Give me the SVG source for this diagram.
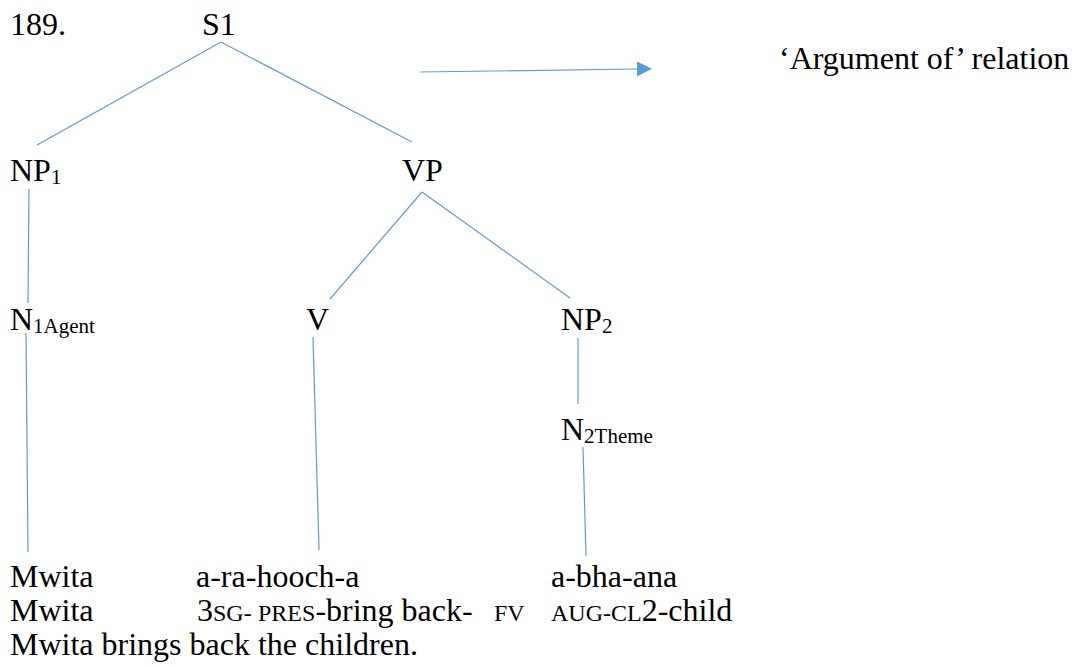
<svg xmlns="http://www.w3.org/2000/svg" width="1075" height="665" viewBox="0 0 1075 665" font-family="'Liberation Serif', serif">
  <style>
    text { font-family: 'Liberation Serif', serif; font-size: 32px; fill: #000; }
    .sub { font-size: 21px; }
    .sc { font-size: 24px; }
    .edge { stroke: #5b9bd5; stroke-width: 1.2; fill: none; }
  </style>
  <defs>
    <marker id="tri" viewBox="0 0 10 10" refX="0" refY="5" markerWidth="15" markerHeight="16" markerUnits="userSpaceOnUse" orient="auto">
      <path d="M0,0 L10,5 L0,10 Z" fill="#5b9bd5"/>
    </marker>
  </defs>

  <text x="10" y="35">189.</text>

  <g id="connectors">
    <line class="edge" x1="221" y1="42" x2="37" y2="145"/>
    <line class="edge" x1="221" y1="42" x2="412" y2="142"/>
    <line class="edge" x1="29" y1="189" x2="28" y2="303"/>
    <line class="edge" x1="422" y1="192" x2="330" y2="299"/>
    <line class="edge" x1="422" y1="192" x2="570" y2="298"/>
    <line class="edge" x1="26" y1="333" x2="28" y2="552"/>
    <line class="edge" x1="313" y1="337" x2="319" y2="550"/>
    <line class="edge" x1="578" y1="338" x2="578" y2="404"/>
    <line class="edge" x1="583" y1="447" x2="586" y2="556"/>
    <!-- legend arrow -->
    <line class="edge" x1="420" y1="72" x2="637" y2="69" stroke-width="1.6" marker-end="url(#tri)"/>
  </g>

  <g id="S1"><text x="202" y="35">S1</text></g>
  <g id="NP1"><text x="10" y="181">NP<tspan class="sub" dy="3">1</tspan></text></g>
  <g id="VP"><text x="402" y="181">VP</text></g>
  <g id="N1Agent"><text x="10" y="330">N<tspan class="sub" dy="3">1Agent</tspan></text></g>
  <g id="V"><text x="306" y="330">V</text></g>
  <g id="NP2"><text x="561" y="330">NP<tspan class="sub" dy="3">2</tspan></text></g>
  <g id="N2Theme"><text x="561" y="440">N<tspan class="sub" dy="3">2Theme</tspan></text></g>

  <g id="legend"><text x="779" y="69">‘Argument of’ relation</text></g>

  <g id="example">
    <text x="10" y="587">Mwita</text>
    <text x="196" y="587">a-ra-hooch-a</text>
    <text x="551" y="587">a-bha-ana</text>

    <text x="10" y="621">Mwita</text>
    <text y="621"><tspan x="197">3</tspan><tspan class="sc">SG-</tspan><tspan class="sc" x="258">PRES</tspan><tspan>-bring back-</tspan><tspan class="sc" x="494">FV</tspan></text>
    <text y="621"><tspan class="sc" x="551">AUG-CL</tspan><tspan>2-child</tspan></text>

    <text x="10" y="655">Mwita brings back the children.</text>
  </g>
</svg>
